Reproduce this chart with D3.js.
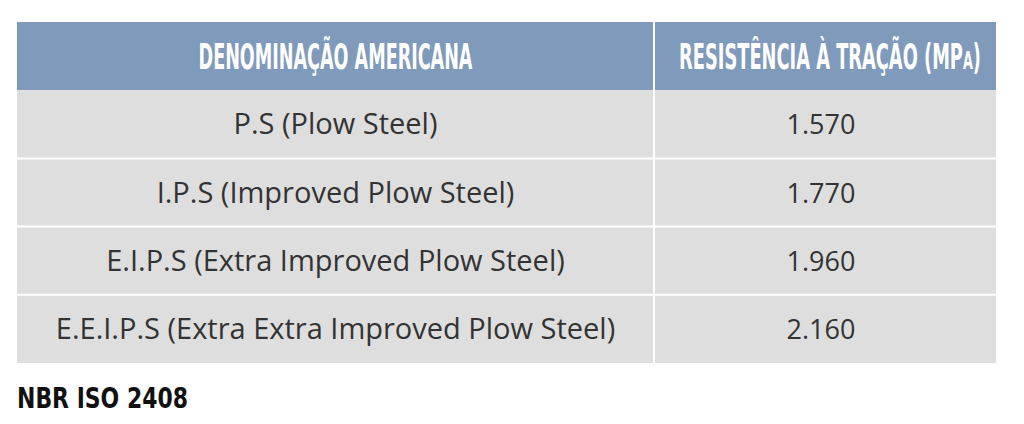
<!DOCTYPE html>
<html><head><meta charset="utf-8">
<script src="https://cdn.jsdelivr.net/npm/d3@7"></script>
<style>body{margin:0;background:#fff}</style>
</head><body><div id="chart"></div>
<script>
var headers = ["DENOMINAÇÃO AMERICANA", "RESISTÊNCIA À TRAÇÃO (MPa)"];
var grades = ["P.S (Plow Steel)", "I.P.S (Improved Plow Steel)", "E.I.P.S (Extra Improved Plow Steel)", "E.E.I.P.S (Extra Extra Improved Plow Steel)"];
var strengths = ["1.570", "1.770", "1.960", "2.160"];
var note = "NBR ISO 2408";

var svg = d3.select("#chart").append("svg").attr("width", 1024).attr("height", 424);

var x = d3.scaleOrdinal().domain([0, 1, 2]).range([17, 654, 996]);
var y = d3.scaleBand().domain(d3.range(grades.length + 1)).range([22, 363]);

// squeeze a text horizontally to a target width around a centre
function squeeze(sel, w, cx) {
  sel.each(function() {
    var len = this.getComputedTextLength();
    var k = w / len;
    var yy = +d3.select(this).attr("y");
    d3.select(this).attr("x", 0).attr("y", 0)
      .attr("transform", `translate(${cx},${yy}) scale(${k},1)`);
  });
}

// header
svg.append("rect").attr("x", 17).attr("y", y(0)).attr("width", 979).attr("height", y.bandwidth())
  .attr("fill", "#7f9aba");
var hw = [274, 302];
headers.forEach(function(d, i) {
  var t = svg.append("text")
    .attr("y", y(0) + y.bandwidth() / 2 + 13)
    .attr("text-anchor", "middle")
    .attr("fill", "#fff")
    .style("font-family", "'DejaVu Sans Condensed', 'DejaVu Sans', sans-serif")
    .style("font-weight", "bold").style("font-size", "35px");
  if (d.endsWith("(MPa)")) {
    t.append("tspan").text(d.slice(0, -3) + "P");
    t.append("tspan").style("font-size", "25px").text("A");
    t.append("tspan").text(")");
  } else t.text(d);
  squeeze(t, hw[i], (x(i) + x(i + 1)) / 2 + (i ? 5 : 0));
});

// body rows
var rows = svg.selectAll(".row").data(grades).enter().append("g");
rows.append("rect").attr("x", 17).attr("y", (d, i) => y(i + 1)).attr("width", 979).attr("height", y.bandwidth())
  .attr("fill", "#dedede");
rows.append("text").attr("x", (x(0) + x(1)) / 2).attr("y", (d, i) => y(i + 1) + y.bandwidth() / 2 + 10)
  .attr("text-anchor", "middle").attr("fill", "#333")
  .style("font-family", "'Open Sans', sans-serif").style("font-size", "29px").text(d => d);
rows.append("text").attr("x", (x(1) + x(2)) / 2 - 4).attr("y", (d, i) => y(i + 1) + y.bandwidth() / 2 + 10)
  .attr("text-anchor", "middle").attr("fill", "#333")
  .style("font-family", "'Open Sans', sans-serif").style("font-size", "27px").text((d, i) => strengths[i]);

// grid lines
svg.selectAll(".hl").data(d3.range(1, grades.length)).enter().append("line")
  .attr("x1", 17).attr("x2", 996).attr("y1", i => y(i + 1)).attr("y2", i => y(i + 1))
  .attr("stroke", "#fff").attr("stroke-width", 2);
svg.append("line").attr("x1", x(1)).attr("x2", x(1)).attr("y1", 22).attr("y2", 363)
  .attr("stroke", "#fff").attr("stroke-width", 2);

var n = svg.append("text").attr("y", 408).attr("fill", "#111").attr("text-anchor", "middle")
  .style("font-family", "'DejaVu Sans Condensed', sans-serif").style("font-weight", "bold")
  .style("font-size", "28px").text(note);
squeeze(n, 171, 17 + 171 / 2);
</script></body></html>
